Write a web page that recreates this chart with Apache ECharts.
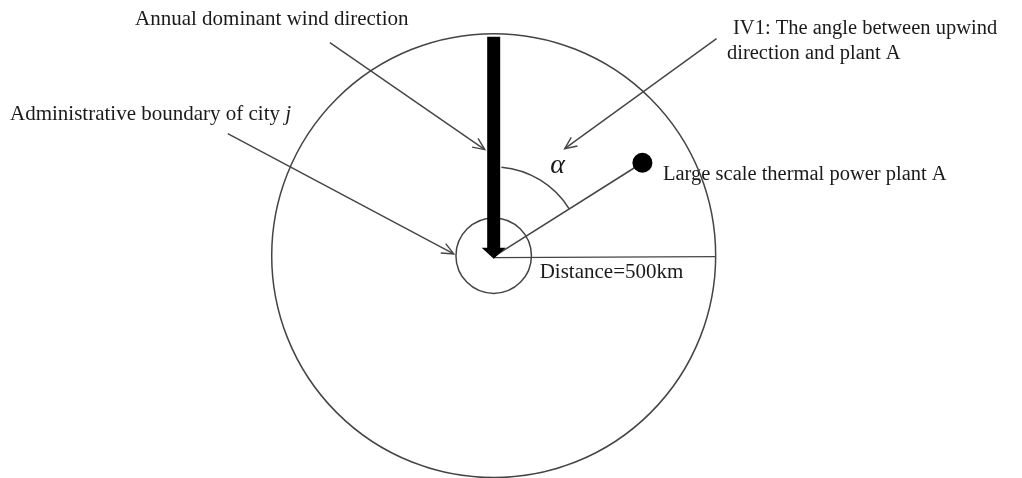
<!DOCTYPE html>
<html><head><meta charset="utf-8">
<script src="https://cdn.jsdelivr.net/npm/echarts@6/dist/echarts.min.js"></script>
<style>html,body{margin:0;padding:0;background:#fff}#c{width:1022px;height:478px}</style>
</head><body><div id="c"></div>
<script>
// ---------- data (km and degrees; bearings clockwise from the upwind / north direction) ----------
const circleNames = ['Distance limit', 'Administrative boundary of city j'];
const circleRadiiKm = [500, 85];
const windArrowFromKm = [493];            // wind arrow runs from 493 km upwind to the city centre
const plantNames = ['Large scale thermal power plant A'];
const plantDistanceKm = [395];
const plantBearingDeg = [58];
const angleArcRadiusKm = [200];
const angleArcStartDeg = [5];
const distanceLineKm = [500];
const distanceLabels = ['Distance=500km'];
const angleLabels = ['\u03b1'];
const noteTexts = ['Annual dominant wind direction', 'Administrative boundary of city ', 'IV1: The angle between upwind', 'direction and plant A', 'Large scale thermal power plant A'];

// ---------- layout (not data) ----------
const FONT = '"Liberation Serif", "Times New Roman", serif';
const FS = 21, FS2 = 20.5;
const TXT = '#1a1a1a', LINE = '#444';
const notes = [ // annotation arrows in km coordinates: [x0,y0,x1,y1]
  [-369, 480, -20, 239],
  [-599, 275, -90, 4],
  [502, 489, 160, 241]
];

const toXY = (d, b) => [d * Math.sin(b * Math.PI / 180), d * Math.cos(b * Math.PI / 180)];
const plantXY = plantDistanceKm.map((d, i) => toXY(d, plantBearingDeg[i]));

const chart = echarts.init(document.getElementById('c'), null, {renderer: 'canvas'});
const option = {
  animation: false,
  backgroundColor: '#fff',
  grid: {left: 0, right: 0, top: 0, bottom: 0, containLabel: false},
  xAxis: {type: 'value', min: -1112, max: 1190, show: false},
  yAxis: {type: 'value', min: -501, max: 576, show: false},
  graphic: [
    {type: 'text', x: 135, y: 19, style: {text: noteTexts[0], font: FS + 'px ' + FONT, fill: TXT, verticalAlign: 'middle'}},
    {type: 'text', x: 10, y: 114, style: {text: '{n|' + noteTexts[1] + '}{i|j}', verticalAlign: 'middle', fill: TXT,
      rich: {n: {fontSize: FS, fontFamily: FONT, fill: TXT}, i: {fontSize: FS, fontFamily: FONT, fontStyle: 'italic', fill: TXT}}}},
    {type: 'text', x: 733, y: 29, style: {text: noteTexts[2], font: FS2 + 'px ' + FONT, fill: TXT, verticalAlign: 'middle'}},
    {type: 'text', x: 727, y: 54, style: {text: noteTexts[3], font: FS2 + 'px ' + FONT, fill: TXT, verticalAlign: 'middle'}},
    {type: 'text', x: 663, y: 175, style: {text: noteTexts[4], font: FS2 + 'px ' + FONT, fill: TXT, verticalAlign: 'middle'}}
  ],
  series: [
    { // circles
      type: 'custom', name: 'circles', silent: true,
      data: circleRadiiKm.map((r, i) => ({name: circleNames[i], value: [0, 0, r]})),
      renderItem: (params, api) => {
        const c = api.coord([api.value(0), api.value(1)]);
        const r = api.size([api.value(2), 0])[0];
        return {type: 'circle', shape: {cx: c[0], cy: c[1], r: r}, style: {fill: 'none', stroke: LINE, lineWidth: 1.5}};
      }
    },
    { // distance line + label
      type: 'custom', name: 'distance', silent: true,
      data: distanceLineKm.map((d, i) => ({name: distanceLabels[i], value: [0, 0, d]})),
      renderItem: (params, api) => {
        const a = api.coord([0, 0]);
        const b = api.coord([api.value(2), 0]);
        return {type: 'group', children: [
          {type: 'line', shape: {x1: a[0], y1: a[1] + 2, x2: b[0], y2: b[1] + 1}, style: {stroke: LINE, lineWidth: 1.4}},
          {type: 'text', x: a[0] + 46, y: a[1] + 17, style: {text: distanceLabels[params.dataIndex], font: FS + 'px ' + FONT, fill: TXT, verticalAlign: 'middle'}}
        ]};
      }
    },
    { // plant line + dot
      type: 'custom', name: 'plant', silent: true,
      data: plantXY.map((p, i) => ({name: plantNames[i], value: p})),
      renderItem: (params, api) => {
        const o = api.coord([0, 0]);
        const p = api.coord([api.value(0), api.value(1)]);
        return {type: 'group', children: [
          {type: 'line', shape: {x1: o[0], y1: o[1] + 1, x2: p[0], y2: p[1]}, style: {stroke: LINE, lineWidth: 1.5}},
          {type: 'circle', shape: {cx: p[0], cy: p[1], r: 10}, style: {fill: '#000'}}
        ]};
      }
    },
    { // angle arc + alpha
      type: 'custom', name: 'angle', silent: true,
      data: angleArcRadiusKm.map((r, i) => ({name: angleLabels[i], value: [0, 0, r, angleArcStartDeg[i], plantBearingDeg[i]]})),
      renderItem: (params, api) => {
        const o = api.coord([0, 0]);
        const r = api.size([api.value(2), 0])[0];
        const s = (api.value(3) - 90) * Math.PI / 180, e = (api.value(4) - 90) * Math.PI / 180;
        const mid = (api.value(3) + api.value(4)) / 2 + 4;
        const lp = api.coord(toXY(api.value(2) * 1.24, mid));
        return {type: 'group', children: [
          {type: 'arc', shape: {cx: o[0], cy: o[1], r: r, startAngle: s, endAngle: e, clockwise: true}, style: {fill: 'none', stroke: LINE, lineWidth: 1.5}},
          {type: 'text', x: lp[0], y: lp[1], style: {text: angleLabels[params.dataIndex], font: 'italic 28px ' + FONT, fill: TXT, align: 'center', verticalAlign: 'middle'}}
        ]};
      }
    },
    { // wind arrow (thick black)
      type: 'custom', name: 'wind', silent: true,
      data: windArrowFromKm.map(d => [0, d]),
      renderItem: (params, api) => {
        const t = api.coord([0, api.value(1)]);
        const tip = api.coord([0, 0]);
        const cx = tip[0], ty = tip[1] + 3, hb = ty - 11;
        return {type: 'polygon', shape: {points: [
          [cx - 6.5, t[1]], [cx + 6.5, t[1]], [cx + 6.5, hb], [cx + 12, hb], [cx, ty], [cx - 12, hb], [cx - 6.5, hb]
        ]}, style: {fill: '#000'}};
      }
    },
    { // annotation arrows
      type: 'custom', name: 'notes', silent: true,
      data: notes,
      renderItem: (params, api) => {
        const a = api.coord([api.value(0), api.value(1)]);
        const b = api.coord([api.value(2), api.value(3)]);
        const dx = b[0] - a[0], dy = b[1] - a[1], L = Math.hypot(dx, dy);
        const ux = dx / L, uy = dy / L, h = 13, th = 24 * Math.PI / 180;
        const rot = (ang) => [b[0] - h * (ux * Math.cos(ang) - uy * Math.sin(ang)), b[1] - h * (ux * Math.sin(ang) + uy * Math.cos(ang))];
        const p1 = rot(th), p2 = rot(-th);
        return {type: 'group', children: [
          {type: 'line', shape: {x1: a[0], y1: a[1], x2: b[0], y2: b[1]}, style: {stroke: LINE, lineWidth: 1.4}},
          {type: 'polyline', shape: {points: [p1, b, p2]}, style: {fill: 'none', stroke: LINE, lineWidth: 1.4}}
        ]};
      }
    }
  ]
};
chart.setOption(option);
</script>
</body></html>
